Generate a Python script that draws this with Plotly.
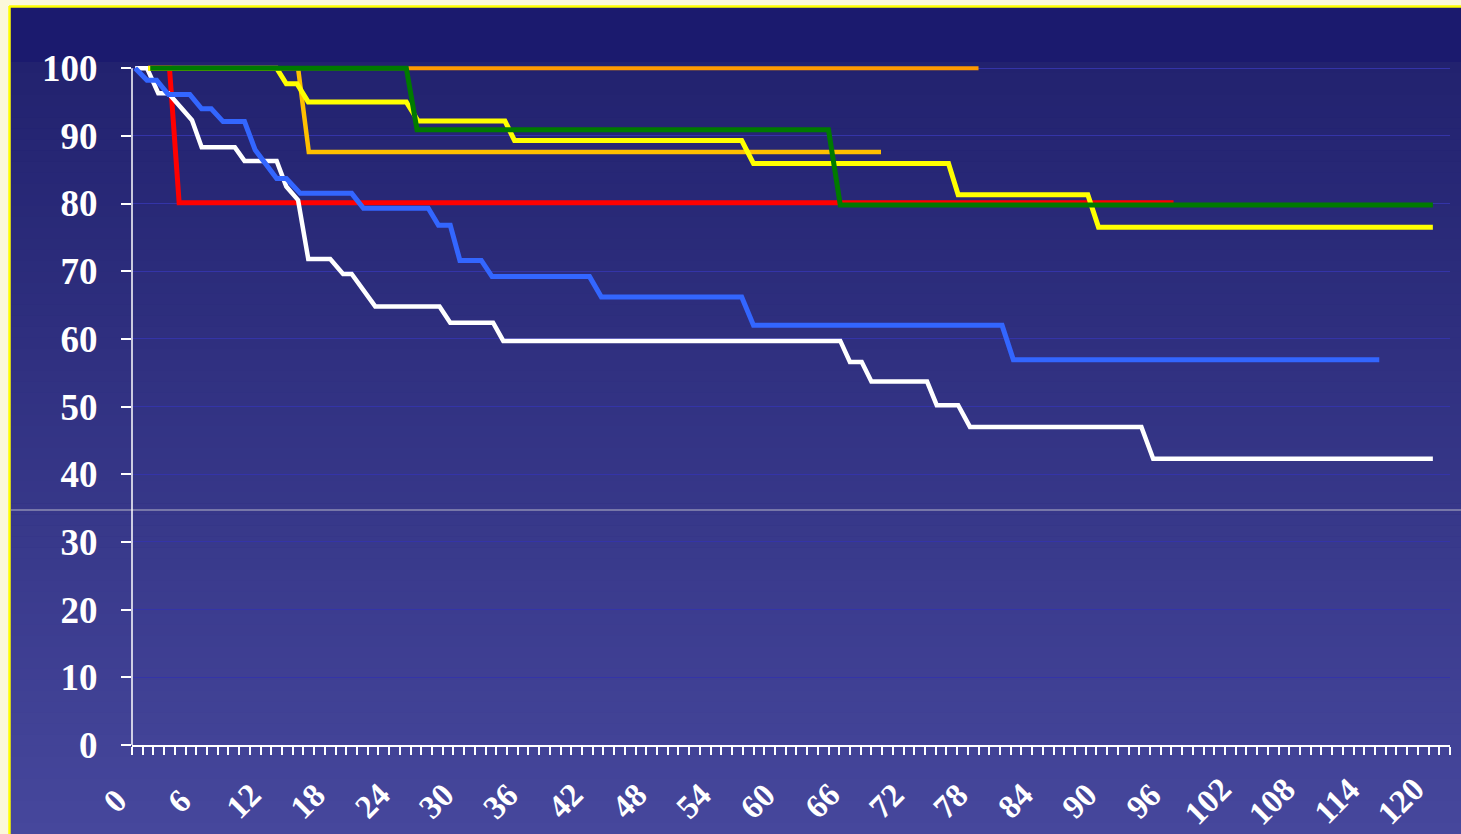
import plotly.graph_objects as go

# ---------------- data (months, survival %) ----------------
tick_months = [0, 6, 12, 18, 24, 30, 36, 42, 48, 54, 60, 66, 72, 78, 84, 90, 96, 102, 108, 114, 120]
tick_labels = [str(v) for v in tick_months]
y_ticks = [0, 10, 20, 30, 40, 50, 60, 70, 80, 90, 100]

orange_m = [1.5, 79.0]
orange_s = [100, 100]

gold_m = [1.5, 15.5, 16.5, 69.9]
gold_s = [100, 100, 87.6, 87.6]

red_m = [1.5, 3.5, 4.4, 97.2]
red_s = [100, 100, 80.1, 80.1]

white_m = [0.3, 1.4, 2.45, 3.4, 5.6, 6.5, 9.6, 10.5, 13.5, 14.4, 15.5, 16.45, 18.5, 19.7,
           20.5, 21.6, 22.7, 28.7, 29.7, 33.7, 34.65, 66.1, 67.0, 68.1, 69.0, 74.2, 75.1,
           77.1, 78.2, 94.2, 95.3, 121.4]
white_s = [100, 100, 96.3, 96.3, 92.3, 88.3, 88.3, 86.3, 86.3, 82.5, 80.5, 71.8, 71.8, 69.6,
           69.6, 67.2, 64.8, 64.8, 62.4, 62.4, 59.7, 59.7, 56.6, 56.6, 53.7, 53.7, 50.2,
           50.2, 47.0, 47.0, 42.3, 42.3]

blue_m = [0.3, 1.4, 2.3, 3.4, 5.4, 6.5, 7.4, 8.5, 10.5, 11.5, 12.5, 13.5, 14.4, 15.7, 20.5,
          21.6, 27.65, 28.6, 29.7, 30.6, 32.6, 33.6, 42.7, 43.8, 56.9, 58.0, 81.2, 82.25, 116.4]
blue_s = [100, 98.2, 98.2, 96.1, 96.1, 94.0, 94.0, 92.1, 92.1, 87.9, 85.8, 83.7, 83.7, 81.5, 81.5,
          79.3, 79.3, 76.8, 76.8, 71.6, 71.6, 69.2, 69.2, 66.2, 66.2, 62.0, 62.0, 56.9, 56.9]

yellow_m = [1.5, 13.5, 14.4, 15.4, 16.45, 25.6, 26.7, 34.8, 35.7, 56.9, 58.0, 76.2, 77.1,
            89.2, 90.2, 121.4]
yellow_s = [100, 100, 97.7, 97.7, 95.0, 95.0, 92.2, 92.2, 89.3, 89.3, 85.9, 85.9, 81.3,
            81.3, 76.5, 76.5]

green_m = [1.7, 25.6, 26.6, 65.0, 66.1, 121.4]
green_s = [100, 100, 90.9, 90.9, 79.8, 79.8]

series = [
    (red_m, red_s, "#FF0000", 5),
    (white_m, white_s, "#FFFFFF", 4.5),
    (blue_m, blue_s, "#3366FF", 5),
    (gold_m, gold_s, "#FFC000", 4.5),
    (orange_m, orange_s, "#FF9900", 4),
    (yellow_m, yellow_s, "#FFFF00", 5),
    (green_m, green_s, "#007A00", 5),
]

# ---------------- layout geometry ----------------
W, H = 1461, 834
L, R, T, B = 132, 11, 58, 89


def px_x(px):
    return (px - L) / (W - L - R)


def px_y(py):
    return (H - B - py) / (H - T - B)


fig = go.Figure()
for m, s, c, w in series:
    fig.add_trace(go.Scatter(x=m, y=s, mode="lines",
                             line=dict(color=c, width=w, shape="linear"),
                             hoverinfo="skip", showlegend=False))

shapes = []
# cream page + yellow-bordered slide
shapes.append(dict(type="rect", xref="paper", yref="paper", layer="below",
                   x0=px_x(0), x1=px_x(W), y0=px_y(H), y1=px_y(0),
                   fillcolor="#FBF8DA", line=dict(width=0)))
shapes.append(dict(type="rect", xref="paper", yref="paper", layer="below",
                   x0=px_x(9), x1=px_x(W), y0=px_y(H), y1=px_y(6),
                   fillcolor="#1B1A6E", line=dict(width=0)))


def mix(c1, c2, t):
    return "#%02X%02X%02X" % tuple(int(round(a + (b - a) * t)) for a, b in zip(c1, c2))


top_c = (0x22, 0x22, 0x6F)
bot_c = (0x46, 0x47, 0x9C)
y_start, y_end = 62, H
n = 70
for i in range(n):
    ya = y_start + (y_end - y_start) * i / n
    yb = min(y_end, y_start + (y_end - y_start) * (i + 1) / n + 0.6)
    shapes.append(dict(type="rect", xref="paper", yref="paper", layer="below",
                       x0=px_x(10.5), x1=px_x(W), y0=px_y(yb), y1=px_y(ya),
                       fillcolor=mix(top_c, bot_c, i / (n - 1)), line=dict(width=0)))

# yellow border (left and top)
shapes.append(dict(type="line", xref="paper", yref="paper", layer="below",
                   x0=px_x(9.5), x1=px_x(9.5), y0=px_y(H), y1=px_y(6),
                   line=dict(color="#FFFF00", width=2.5)))
shapes.append(dict(type="line", xref="paper", yref="paper", layer="below",
                   x0=px_x(9), x1=px_x(W), y0=px_y(6.5), y1=px_y(6.5),
                   line=dict(color="#FFFF00", width=2.5)))
# stray light line across the slide
shapes.append(dict(type="line", xref="paper", yref="paper", layer="above",
                   x0=px_x(11), x1=px_x(W), y0=px_y(510), y1=px_y(510),
                   line=dict(color="#B8B8C8", width=1)))
# value axis line from 0 to 100
shapes.append(dict(type="line", xref="paper", yref="y", layer="above",
                   x0=0, x1=0, y0=0, y1=100,
                   line=dict(color="#FFFFFF", width=1.5)))

font_family = "Liberation Serif, Times New Roman, serif"

annotations = []
for v, lab in zip(tick_months, tick_labels):
    annotations.append(dict(x=v, y=px_y(801), xref="x", yref="paper", text=lab,
                            showarrow=False, textangle=-45, xanchor="center",
                            yanchor="middle", xshift=-17,
                            font=dict(family=font_family, size=33, color="#FFFFFF",
                                      weight="bold")))

fig.update_layout(
    width=W, height=H,
    margin=dict(l=L, r=R, t=T, b=B, pad=0, autoexpand=False),
    paper_bgcolor="rgba(0,0,0,0)",
    plot_bgcolor="rgba(0,0,0,0)",
    shapes=shapes,
    annotations=annotations,
    showlegend=False,
    xaxis=dict(
        range=[0, 123], tickmode="array", tickvals=tick_months, showticklabels=False,
        ticks="outside", ticklen=8, tickwidth=1.5, tickcolor="#FFFFFF",
        minor=dict(dtick=1, tick0=0, ticks="outside", ticklen=8, tickwidth=1.5,
                   tickcolor="#FFFFFF", showgrid=False),
        showline=True, linecolor="#FFFFFF", linewidth=2,
        showgrid=False, zeroline=False, automargin=False,
    ),
    yaxis=dict(
        range=[0, 101.5], tickmode="array", tickvals=y_ticks,
        ticktext=[str(v) for v in y_ticks],
        ticks="outside", ticklen=10, tickwidth=1.5, tickcolor="#FFFFFF",
        showline=False,
        showgrid=True, gridcolor="#3434A8", gridwidth=1, zeroline=False,
        tickfont=dict(family=font_family, size=37, color="#FFFFFF", weight="bold"),
        ticklabelstandoff=16, automargin=False,
    ),
)

fig.write_html("out.html", config={"displayModeBar": False},
               post_script="document.body.style.margin='0';document.body.style.overflow='hidden';")
